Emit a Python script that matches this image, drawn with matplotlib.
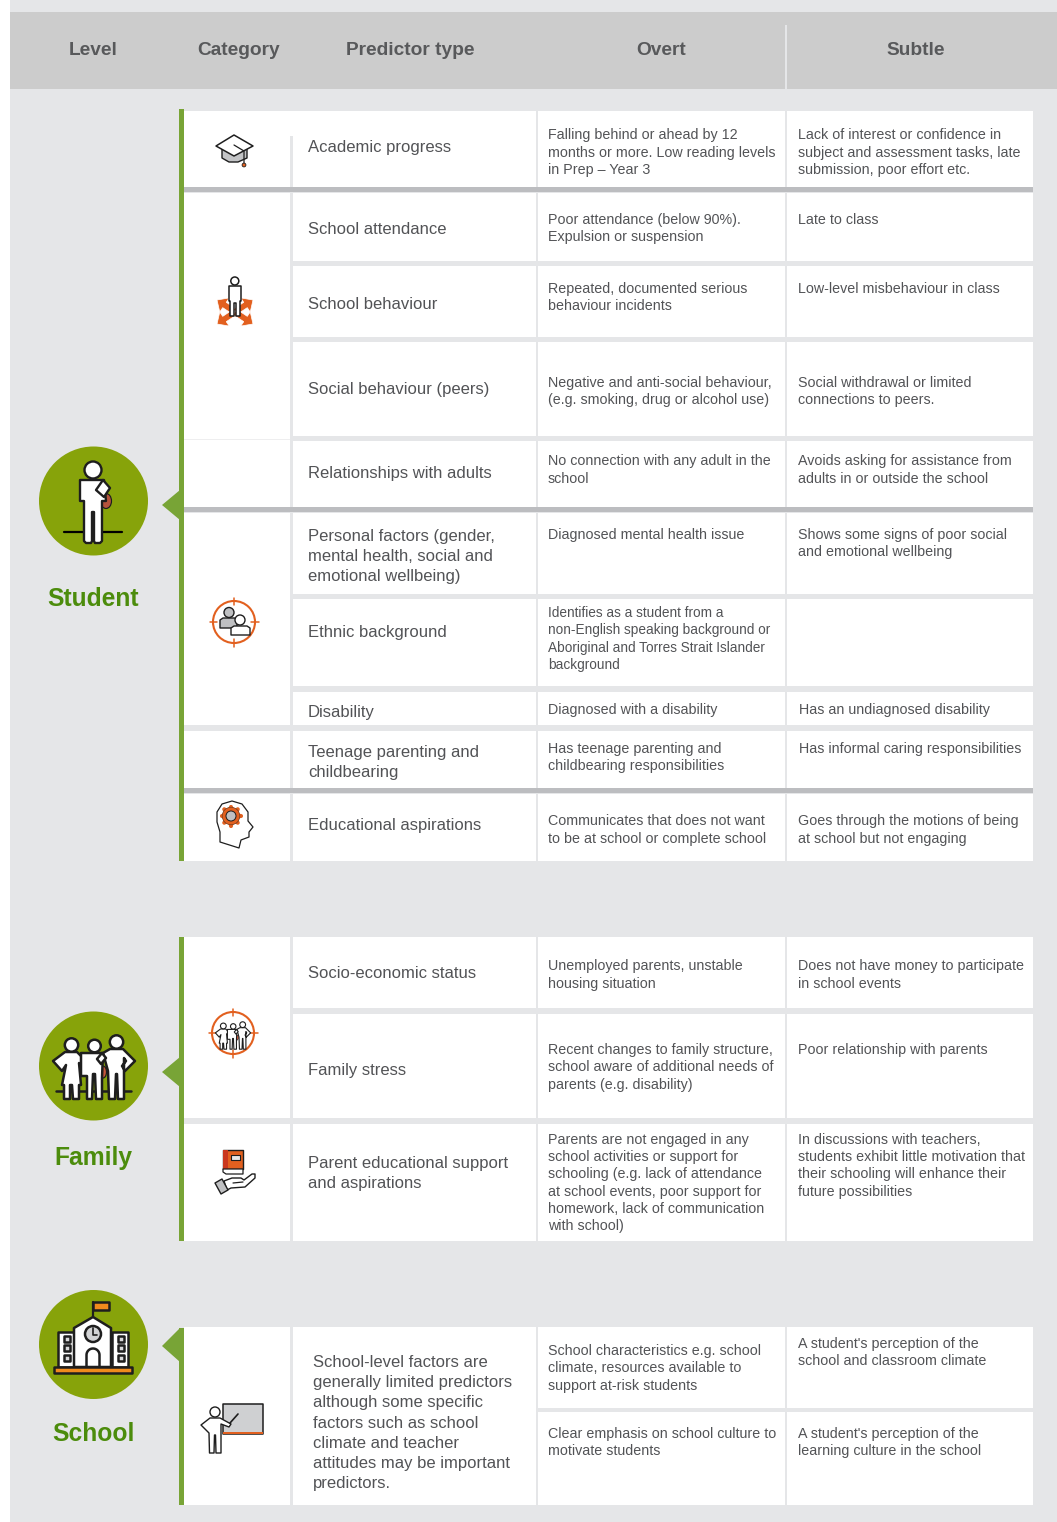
import matplotlib
matplotlib.use("Agg")
import matplotlib.pyplot as plt
from matplotlib.patches import Rectangle, Circle, Polygon, Ellipse, Wedge
import numpy as np

plt.rcParams['font.family'] = ['Liberation Sans', 'DejaVu Sans']

PAGE = '#E5E6E8'; HEADER = '#CCCCCC'; THICK = '#BCBDC0'; BAR = '#78A436'; DISC = '#87A30A'
LABEL = '#4C8C0C'; INK = '#525356'; HEAD_INK = '#58595B'; ORANGE = '#E2601F'; ICON = '#1E1E1E'

HEADERS = ['Level', 'Category', 'Predictor type', 'Overt', 'Subtle']
HEADER_X = [93.5, 238.5, 410, 661, 916]

LEVELS = ['Student', 'Family', 'School']

PRED = [
    ['Academic progress'],
    ['School attendance'],
    ['School behaviour'],
    ['Social behaviour (peers)'],
    ['Relationships with adults'],
    ['Personal factors (gender,', 'mental health, social and', 'emotional wellbeing)'],
    ['Ethnic background'],
    ['Disability'],
    ['Teenage parenting and', 'childbearing'],
    ['Educational aspirations'],
    ['Socio-economic status'],
    ['Family stress'],
    ['Parent educational support', 'and aspirations'],
    ['School-level factors are', 'generally limited predictors', 'although some specific', 'factors such as school',
     'climate and teacher', 'attitudes may be important', 'predictors.'],
]
PRED_Y = [147, 229, 304, 389, 473, 536, 632, 712, 752, 825, 973, 1070, 1163, 1362]

OVERT = [
    ['Falling behind or ahead by 12', 'months or more. Low reading levels', 'in Prep – Year 3'],
    ['Poor attendance (below 90%).', 'Expulsion or suspension'],
    ['Repeated, documented serious', 'behaviour incidents'],
    ['Negative and anti-social behaviour,', '(e.g. smoking, drug or alcohol use)'],
    ['No connection with any adult in the', 'school'],
    ['Diagnosed mental health issue'],
    ['Identifies as a student from a', 'non-English speaking background or', 'Aboriginal and Torres Strait Islander', 'background'],
    ['Diagnosed with a disability'],
    ['Has teenage parenting and', 'childbearing responsibilities'],
    ['Communicates that does not want', 'to be at school or complete school'],
    ['Unemployed parents, unstable', 'housing situation'],
    ['Recent changes to family structure,', 'school aware of additional needs of', 'parents (e.g. disability)'],
    ['Parents are not engaged in any', 'school activities or support for', 'schooling (e.g. lack of attendance',
     'at school events, poor support for', 'homework, lack of communication', 'with school)'],
    ['School characteristics e.g. school', 'climate, resources available to', 'support at-risk students'],
    ['Clear emphasis on school culture to', 'motivate students'],
]
OVERT_Y = [134, 219, 288, 382, 460, 534, 612, 709, 748, 820, 965, 1049, 1139, 1350, 1433]
OVERT_STEP = [17.5, 17.3, 17.3, 17.3, 18, 17.3, 17.3, 17.3, 17.3, 18, 18, 17.3, 17.2, 17.3, 17.3]

SUBTLE = [
    ['Lack of interest or confidence in', 'subject and assessment tasks, late', 'submission, poor effort etc.'],
    ['Late to class'],
    ['Low-level misbehaviour in class'],
    ['Social withdrawal or limited', 'connections to peers.'],
    ['Avoids asking for assistance from', 'adults in or outside the school'],
    ['Shows some signs of poor social', 'and emotional wellbeing'],
    [],
    ['Has an undiagnosed disability'],
    ['Has informal caring responsibilities'],
    ['Goes through the motions of being', 'at school but not engaging'],
    ['Does not have money to participate', 'in school events'],
    ['Poor relationship with parents'],
    ['In discussions with teachers,', 'students exhibit little motivation that', 'their schooling will enhance their', 'future possibilities'],
    ["A student's perception of the", 'school and classroom climate'],
    ["A student's perception of the", 'learning culture in the school'],
]
SUBTLE_Y = [134, 219, 288, 382, 460, 534, 0, 709, 748, 820, 965, 1049, 1139, 1343, 1433]
SUBTLE_X = [798, 798, 798, 798, 798, 798, 798, 799, 799, 798, 798, 798, 798, 798, 798]

# row extents (top, bottom) for the text columns
ROWS = [(111, 187), (193, 261), (266, 337), (342, 436), (441, 507), (513, 594), (599, 686), (692, 725),
        (731, 788), (794, 861), (937, 1008), (1014, 1118), (1124, 1241), (1327, 1408), (1412, 1505)]
PRED_ROWS = ROWS[:13] + [(1327, 1505)]
CAT_ROWS = [(111, 187), (193, 507), (513, 725), (731, 788), (794, 861), (937, 1118), (1124, 1241), (1327, 1505)]
THICK_LINES = [(187, 192), (507, 512), (788, 793)]
BARS = [(109, 861), (937, 1241), (1328, 1505)]

fig = plt.figure(figsize=(10.57, 15.22), dpi=100, facecolor='white')
ax = fig.add_axes([0, 0, 1, 1])
ax.set_xlim(0, 1057); ax.set_ylim(1522, 0); ax.axis('off')


def rect(x0, y0, x1, y1, fc, z=1):
    ax.add_patch(Rectangle((x0, y0), x1 - x0, y1 - y0, fc=fc, ec='none', zorder=z))


def poly(pts, fc='white', ec=ICON, lw=1.2, z=5, closed=True):
    ax.add_patch(Polygon(pts, closed=closed, fc=fc, ec=ec, lw=lw, zorder=z, joinstyle='round'))


def circ(x, y, r, fc='white', ec=ICON, lw=1.2, z=6):
    ax.add_patch(Circle((x, y), r, fc=fc, ec=ec, lw=lw, zorder=z))


def seg(xs, ys, c=ICON, lw=1.2, z=5):
    ax.plot(xs, ys, color=c, lw=lw, zorder=z, solid_capstyle='round', solid_joinstyle='round')


def lines(x, y0, step, rows, size, color=INK):
    for i, t in enumerate(rows):
        ax.text(x, y0 + 5 + i * step, t, fontsize=size, color=color, ha='left', va='baseline', zorder=10)


# ---------- page ----------
rect(10, 0, 1057, 1522, PAGE, 0)
rect(10, 12, 1057, 89, HEADER, 1)
rect(785, 25, 787, 89, PAGE, 2)
for t, x in zip(HEADERS, HEADER_X):
    ax.text(x, 50.5, t, fontsize=13.8, fontweight='bold', color=HEAD_INK, ha='center', va='center', zorder=10)

for top, bot in CAT_ROWS:
    rect(184, top, 290, bot, 'white')
for top, bot in PRED_ROWS:
    rect(293, top, 536, bot, 'white')
for top, bot in ROWS:
    rect(538, top, 785, bot, 'white')
    rect(787, top, 1033, bot, 'white')
rect(290, 111, 293, 136, 'white', 2)
for top, bot in THICK_LINES:
    rect(184, top, 1033, bot, THICK, 3)
rect(184, 439, 290, 440, '#EEEEEF', 3)
for top, bot in BARS:
    rect(179, top, 184, bot, BAR, 4)

# ---------- text ----------
for i, r in enumerate(PRED):
    big = i == len(PRED) - 1
    lines(313 if big else 308, PRED_Y[i], 20.2, r, 12.0)
for i, r in enumerate(OVERT):
    lines(548, OVERT_Y[i], OVERT_STEP[i], r, 9.8 if i == 6 else 10.28)
for i, r in enumerate(SUBTLE):
    lines(SUBTLE_X[i], SUBTLE_Y[i], OVERT_STEP[i], r, 10.28)

# ---------- level discs ----------
DISC_Y = [501, 1066, 1344.5]
TRI = [(505, 490, 520), (1072, 1057, 1087), (1346, 1328, 1362)]
LABEL_Y = [598.5, 1158, 1434]
for name, cy, tri, ly in zip(LEVELS, DISC_Y, TRI, LABEL_Y):
    ax.add_patch(Circle((93.5, cy), 54.5, fc=DISC, ec='none', zorder=2))
    ax.add_patch(Polygon([(162, tri[0]), (180, tri[1]), (180, tri[2])], fc=BAR, ec='none', zorder=4))
    ax.text(93.5, ly, name, fontsize=17.7, fontweight='bold', color=LABEL, ha='center', va='center', zorder=10)


# ---------- icons ----------
def person(cx, hy, s=1.0, lw=1.6, z=5):
    p = [(-13, 10), (11, 10), (13, 31), (9, 31), (9, 71), (7, 73), (2, 73), (1, 71), (1, 42), (-1, 42), (-1, 71),
         (-2, 73), (-7, 73), (-9, 71), (-9, 31), (-13, 31)]
    ax.add_patch(Wedge((cx + 10 * s, hy + 26 * s), 12 * s, 5, 115, fc='none', ec='none'))
    ax.add_patch(Ellipse((cx + 13 * s, hy + 31 * s), 11 * s, 15 * s, fc='#B5533C', ec=ICON, lw=lw * .5, zorder=z - 1))
    poly([(cx + a * s, hy + b * s) for a, b in p], lw=lw, z=z)
    circ(cx, hy, 8.5 * s, lw=lw, z=z + 1)
    poly([(cx + 3 * s, hy + 20 * s), (cx + 10 * s, hy + 10 * s), (cx + 17 * s, hy + 18 * s), (cx + 11 * s, hy + 27 * s)],
         lw=lw, z=z + 1)


def family(cx, cy, s=1.0, lw=1.6, ground=True):
    X = lambda a: cx + a * s
    Y = lambda b: cy + b * s
    if ground:
        seg([X(-38), X(37)], [Y(25), Y(25)], lw=lw, z=4)
    # woman with skirt
    poly([(X(a), Y(b)) for a, b in [
        (-29, -14), (-17, -14), (-8, -5), (-12, 0), (-15, -3), (-13, 19), (-15, 19), (-15, 33), (-21, 33), (-22, 19),
        (-24, 19), (-24, 33), (-30, 33), (-30, 19), (-32, 19), (-28, -1), (-32, 5), (-41, -5)]], lw=lw, z=5)
    circ(X(-22.5), Y(-21), 6.7 * s, lw=lw)
    # man
    poly([(X(a), Y(b)) for a, b in [
        (16, -17), (29, -17), (41, -5), (31, 5), (28, 0), (32, -5), (30, -8), (30, 33), (24, 33), (23, 8), (22, 8),
        (21, 33), (15, 33), (14, 5), (9, -13)]], lw=lw, z=5)
    circ(X(22.5), Y(-24), 6.7 * s, lw=lw)
    # student
    ax.add_patch(Ellipse((X(9), Y(6)), 7 * s, 12 * s, fc='#C9583A', ec=ICON, lw=lw * .5, zorder=6))
    poly([(X(a), Y(b)) for a, b in [
        (-13, -13), (9, -13), (8, 12), (8, 33), (2, 33), (1, 8), (-1, 8), (-2, 33), (-7, 33), (-7, 10), (-13, 10)]],
         lw=lw, z=7)
    circ(X(0.5), Y(-20), 6.3 * s, lw=lw, z=8)
    poly([(X(3), Y(-7)), (X(8), Y(-13)), (X(12), Y(-8)), (X(7), Y(-2))], lw=lw, z=8)


# student disc
seg([64, 122], [532, 532], c='black', lw=1.6, z=3)
person(93, 470, 1.0, lw=1.7)

# family disc
family(94, 1066, 1.0, lw=1.8)

# school disc
seg([93, 93], [1317, 1302], lw=1.6, z=5)
poly([(93, 1302), (109, 1302), (109, 1310), (93, 1310)], fc='#F08A1D', lw=1.8, z=6)
for x0, x1 in [(58, 74), (112, 128)]:
    poly([(x0, 1332), (x1, 1332), (x1, 1367), (x0, 1367)], lw=1.8, z=5)
    for wy in [1339, 1348, 1358]:
        xc = (x0 + x1) / 2 + 0.5
        poly([(xc - 3, wy - 3), (xc + 3, wy - 3), (xc + 3, wy + 3), (xc - 3, wy + 3)], fc='#D8D8DA', lw=1.8, z=6)
poly([(74, 1367), (74, 1328), (93, 1317), (111, 1328), (111, 1367)], lw=1.8, z=6)
circ(93, 1334, 8, fc='#D2D3D5', lw=1.8, z=7)
seg([93, 93, 97], [1328, 1335, 1335], lw=1.2, z=8)
arch_t = np.linspace(np.pi, 2 * np.pi, 20)
poly(list(zip(93 + 6.5 * np.cos(arch_t), 1355 + 6.5 * np.sin(arch_t))) + [(99.5, 1367), (86.5, 1367)], lw=1.8, z=7)
poly([(54, 1367), (132, 1367), (132, 1373), (54, 1373)], fc='#F08A1D', lw=1.8, z=8)

# graduation cap
poly([(222, 149), (247, 149), (247, 158), (238, 162), (229, 162), (222, 158)], fc='#C3C4C6', lw=1.0, z=5)
poly([(216, 146), (234, 135), (253, 146), (234, 156)], lw=1.1, z=6)
seg([234, 244, 244], [145, 151, 163], lw=0.9, z=7)
circ(244, 165, 1.9, fc=ORANGE, lw=0.6, z=8)


# person with arrows
def arrow(x0, y0, x1, y1, hw=8.5, hl=9, tw=3.2):
    d = np.array([x1 - x0, y1 - y0], float)
    L = np.hypot(*d); d /= L; n = np.array([-d[1], d[0]])
    p0, p1 = np.array([x0, y0]), np.array([x1, y1])
    b = p1 - d * hl
    pts = [p0 + n * tw, b + n * tw, b + n * hw, p1, b - n * hw, b - n * tw, p0 - n * tw]
    ax.add_patch(Polygon(pts, fc=ORANGE, ec='white', lw=0.5, zorder=4))


for tip in [(217, 300), (253, 300), (217, 324), (253, 324)]:
    arrow(235, 312, tip[0], tip[1])
poly([(228.5, 286), (241, 286), (241, 301), (239.5, 301), (239.5, 316), (235.5, 316), (235.5, 303), (234, 303),
      (234, 316), (230, 316), (230, 301), (228.5, 301)], lw=1.1, z=6)
circ(234.8, 281, 4, lw=1.1, z=7)


def target(cx, cy, r=21):
    circ(cx, cy, r, fc='white', ec=ORANGE, lw=1.5, z=4)
    for dx, dy in [(1, 0), (-1, 0), (0, 1), (0, -1)]:
        seg([cx + dx * (r - 4), cx + dx * (r + 3.5)], [cy + dy * (r - 4), cy + dy * (r + 3.5)], c=ORANGE, lw=1.1, z=4)


# people target
target(234, 622)
poly([(220, 628), (220, 620), (223, 618), (235, 618), (237, 620), (237, 628)], fc='#BFC0C2', lw=1.0, z=5)
circ(229, 612.5, 5, fc='#BFC0C2', lw=1.0, z=5)
poly([(231, 635), (231, 628), (234, 626), (247, 626), (250, 628), (250, 635)], lw=1.0, z=6)
circ(240, 620, 5, lw=1.0, z=7)

# head with gear
poly([(220, 842), (220, 832), (217, 822), (217, 812), (222, 804), (232, 801), (242, 804), (248, 812), (248, 821),
      (253, 827), (249, 832), (249, 837), (241, 840), (239, 848)], lw=0.9, z=5)
for a in np.arange(0, np.pi, np.pi / 4):
    seg([231 - 9.5 * np.cos(a), 231 + 9.5 * np.cos(a)], [816 - 9.5 * np.sin(a), 816 + 9.5 * np.sin(a)], c=ORANGE, lw=3, z=6)
circ(231, 816, 8.8, fc=ORANGE, ec='#6A3A20', lw=0.5, z=7)
circ(231, 816, 5, fc='#BFC0C2', ec=ICON, lw=0.7, z=8)

# family target
target(233, 1033)
family(233, 1035, 0.43, lw=0.8, ground=False)

# book and hand
poly([(223, 1150), (243, 1150), (243, 1169), (223, 1169)], fc=ORANGE, lw=1.0, z=5)
rect(223, 1150, 228, 1169, '#C9371E', 6)
poly([(223, 1169), (243, 1169), (243, 1174), (226, 1174), (223, 1172)], lw=0.9, z=6)
poly([(231, 1155), (240, 1155), (240, 1160), (231, 1160)], fc='#E8E8E8', lw=0.8, z=7)
poly([(224, 1181), (232, 1178), (241, 1178), (244, 1180), (252, 1174), (255, 1174), (255, 1178), (245, 1187),
      (231, 1188), (227, 1190)], lw=1.0, z=5)
seg([233, 243], [1183, 1182], lw=0.9, z=6)
poly([(215, 1183), (222, 1179), (228, 1190), (221, 1194)], fc='#BFC0C2', lw=1.0, z=6)

# teacher and board
poly([(223, 1404), (263, 1404), (263, 1434), (223, 1434)], fc='#CFD0D2', lw=1.1, z=4)
rect(223, 1431.5, 263, 1434, ORANGE, 5)
poly([(210, 1418), (220, 1418), (231, 1424), (229, 1427), (221, 1424), (221, 1453), (216, 1453), (215.5, 1435),
      (214.5, 1435), (214, 1453), (209.5, 1453), (209, 1433), (201, 1425)], lw=1.0, z=6)
circ(215, 1412, 5, lw=1.0, z=7)
seg([230, 238], [1423, 1414], lw=1.2, z=7)

fig.savefig('out.png', dpi=100, facecolor='white')
